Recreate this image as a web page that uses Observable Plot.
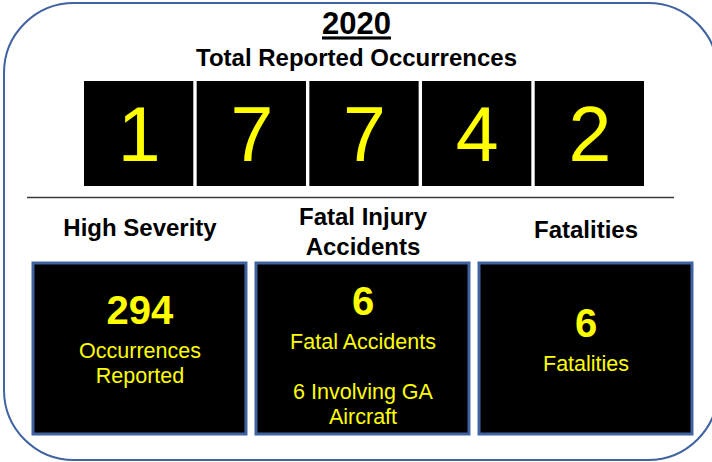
<!DOCTYPE html>
<html><head><meta charset="utf-8">
<script src="https://cdn.jsdelivr.net/npm/d3@7"></script>
<script src="https://cdn.jsdelivr.net/npm/@observablehq/plot@0.6"></script>
<style>html,body{margin:0;padding:0;background:#fff}</style>
</head><body><div id="chart"></div>
<script>
// ---- data ----
const year = "2020";
const headline = "Total Reported Occurrences";
const totalDigits = ["1", "7", "7", "4", "2"];
const panelTitles = ["High Severity", "Fatal Injury\nAccidents", "Fatalities"];
const panelValues = ["294", "6", "6"];
const panelLabels = [["Occurrences", "Reported"], ["Fatal Accidents", "", "6 Involving GA", "Aircraft"], ["Fatalities"]];

// ---- layout ----
const W = 712, H = 462;
const FONT = "'Liberation Sans', Arial, sans-serif";
const YELLOW = "#ffff00", BLUE = "#3f63a0";
const digitBand = d3.scaleBand().domain(d3.range(totalDigits.length)).range([84, 644]).paddingInner(0.03);
const panelBand = d3.scaleBand().domain(d3.range(panelTitles.length)).range([33, 692]).paddingInner(0.045);
const digitTop = 81, digitBottom = 186, digitMid = 136;
const panelTop = 263, panelBottom = 434;
const titleY = [226, 230, 228];
const valueY = [311, 302, 324];
const labelGap = 40, labelStep = 25;

const digitData = totalDigits.map((d, i) => ({
  d, x1: digitBand(i), x2: digitBand(i) + digitBand.bandwidth(), xc: digitBand(i) + digitBand.bandwidth() / 2
}));
const panelData = panelTitles.map((t, i) => ({
  title: t, value: panelValues[i],
  x1: panelBand(i), x2: panelBand(i) + panelBand.bandwidth(), xc: panelBand(i) + panelBand.bandwidth() / 2,
  ty: titleY[i], vy: valueY[i]
}));
const labelData = panelLabels.flatMap((lines, i) => lines.map((l, j) => ({
  text: l, x: panelData[i].xc, y: valueY[i] + labelGap + j * labelStep
})));

const chart = Plot.plot({
  width: W, height: H, margin: 0,
  x: {domain: [0, W], range: [0, W], axis: null},
  y: {domain: [0, H], range: [0, H], axis: null},
  style: {fontFamily: FONT, background: "#fff", overflow: "hidden"},
  marks: [
    Plot.rect([0], {x1: 4, x2: 718, y1: 3, y2: 460, rx: 70, fill: "none", stroke: BLUE, strokeWidth: 2}),
    Plot.text([year], {x: W / 2, y: 24, text: d => d, fontSize: 31, fontWeight: "bold", fill: "#000", fontFamily: FONT}),
    Plot.text([headline], {x: W / 2, y: 58, text: d => d, fontSize: 24, fontWeight: "bold", fill: "#000", fontFamily: FONT}),
    Plot.rect(digitData, {x1: "x1", x2: "x2", y1: digitTop, y2: digitBottom, fill: "#000"}),
    Plot.text(digitData, {x: "xc", y: digitMid, text: "d", fontSize: 77, fill: YELLOW, fontFamily: FONT}),
    Plot.ruleY([197], {x1: 27, x2: 674, stroke: "#3a3a3a", strokeWidth: 1.5}),
    Plot.text(panelData, {x: "xc", y: "ty", text: "title", fontSize: 24, fontWeight: "bold", fill: "#000", lineHeight: 1.25, fontFamily: FONT}),
    Plot.rect(panelData, {x1: "x1", x2: "x2", y1: panelTop, y2: panelBottom, fill: "#000", stroke: BLUE, strokeWidth: 3}),
    Plot.text(panelData, {x: "xc", y: "vy", text: "value", fontSize: 40, fontWeight: "bold", fill: YELLOW, fontFamily: FONT}),
    Plot.text(labelData, {x: "x", y: "y", text: "text", fontSize: 21.5, fill: YELLOW, fontFamily: FONT})
  ]
});
d3.select(chart).selectAll("text").filter(function () { return this.textContent === year; })
  .attr("text-decoration", "underline");
document.getElementById("chart").appendChild(chart);
</script>
</body></html>
